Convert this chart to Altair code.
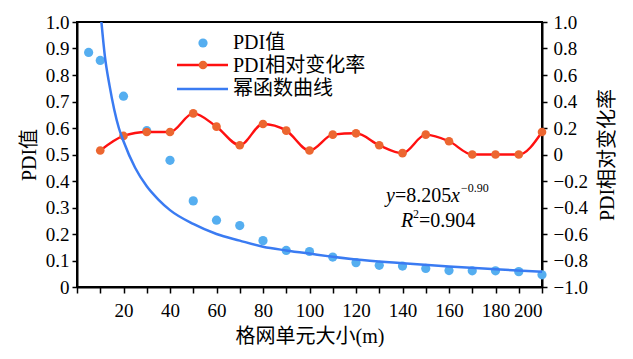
import altair as alt
import pandas as pd

# ---- data ----
pdi_x = [5, 10, 20, 30, 40, 50, 60, 70, 80, 90, 100, 110, 120, 130, 140, 150, 160, 170, 180, 190, 200]
pdi_val = [0.885, 0.855, 0.72, 0.59, 0.478, 0.325, 0.252, 0.232, 0.175, 0.138, 0.134, 0.113, 0.092, 0.082, 0.079, 0.07, 0.062, 0.061, 0.061, 0.058, 0.046]

rate_x = [10, 20, 30, 40, 50, 60, 70, 80, 90, 100, 110, 120, 130, 140, 150, 160, 170, 180, 190, 200]
rate_val = [0.03, 0.14, 0.17, 0.17, 0.31, 0.21, 0.07, 0.23, 0.18, 0.03, 0.15, 0.16, 0.07, 0.01, 0.15, 0.10, 0.0, 0.0, 0.0, 0.17]

curve_x = [10.5, 12, 14, 16, 18, 20, 25, 30, 35, 40, 50, 60, 70, 80, 90, 100, 120, 140, 160, 180, 200]
curve_val = [1.0, 0.87, 0.76, 0.67, 0.60, 0.55, 0.45, 0.38, 0.33, 0.29, 0.238, 0.20, 0.175, 0.152, 0.138, 0.126, 0.104, 0.09, 0.077, 0.067, 0.058]

x_ticks = list(range(0, 201, 10))
left_ticks = [round(i * 0.1, 1) for i in range(11)]
right_ticks = [round(-1 + i * 0.2, 1) for i in range(11)]

legend_labels = ["PDI值", "PDI相对变化率", "幂函数曲线"]

FONT = "Liberation Serif, Noto Sans CJK SC"
BLUE_PT = "#55AEF0"
RED = "#FF1010"
ORANGE = "#EC6630"
CURVE = "#3A7BF2"

pdi_df = pd.DataFrame({"x": pdi_x, "v": pdi_val})
rate_df = pd.DataFrame({"x": rate_x, "r": rate_val})
curve_df = pd.DataFrame({"x": curve_x, "v": curve_val})
one = pd.DataFrame({"a": [0]})

x_enc = alt.X("x:Q", scale=alt.Scale(domain=[0, 200], nice=False),
              axis=alt.Axis(values=x_ticks, title="格网单元大小(m)",
                            labelExpr="(datum.value % 20 == 0 && datum.value > 0) ? datum.label : ''",
                            tickSize=6, labelPadding=8, titlePadding=6))

left_axis = alt.Axis(values=left_ticks, title="PDI值", orient="left",
                     labelExpr="datum.value == 0 ? '0' : format(datum.value, '.1f')",
                     tickSize=5, labelPadding=3, titlePadding=6, titleAngle=270)
left_scale = alt.Scale(domain=[0, 1], nice=False)

right_axis = alt.Axis(values=right_ticks, title="PDI相对变化率", orient="right",
                      labelExpr="datum.value == 0 ? '0' : replace(format(datum.value, '.1f'), '-', '–')",
                      tickSize=5, labelPadding=6, titlePadding=10, titleAngle=270,
                      titleBaseline="top")
right_scale = alt.Scale(domain=[-1, 1], nice=False)

pts = alt.Chart(pdi_df).mark_circle(size=85, color=BLUE_PT, opacity=1).encode(
    x=x_enc, y=alt.Y("v:Q", scale=left_scale, axis=left_axis))

rline = alt.Chart(rate_df).mark_line(color=RED, strokeWidth=2.4, interpolate="monotone").encode(
    x=x_enc, y=alt.Y("r:Q", scale=right_scale, axis=right_axis))
rpts = alt.Chart(rate_df).mark_circle(size=75, color=ORANGE, opacity=1).encode(
    x=x_enc, y=alt.Y("r:Q", scale=right_scale, axis=right_axis))
right = alt.layer(rline, rpts)

curve = alt.Chart(curve_df).mark_line(color=CURVE, strokeWidth=2.5, interpolate="monotone").encode(
    x=x_enc, y=alt.Y("v:Q", scale=left_scale, axis=None))

# ---- manual legend ----
leg = [
    alt.Chart(one).mark_circle(size=85, color=BLUE_PT, opacity=1).encode(x=alt.value(126), y=alt.value(21)),
    alt.Chart(one).mark_rule(color=RED, strokeWidth=2.4).encode(x=alt.value(100), x2=alt.value(151), y=alt.value(43)),
    alt.Chart(one).mark_circle(size=75, color=ORANGE, opacity=1).encode(x=alt.value(126), y=alt.value(43)),
    alt.Chart(one).mark_rule(color=CURVE, strokeWidth=2.5).encode(x=alt.value(100), x2=alt.value(151), y=alt.value(67)),
]
for i, lab in enumerate(legend_labels):
    leg.append(alt.Chart(one).mark_text(text=lab, font=FONT, fontSize=20, align="left", baseline="middle", color="black")
               .encode(x=alt.value(156), y=alt.value(21 + 23 * i)))

# ---- equation annotation ----
def txt(t, x, y, size=20, style="normal"):
    return alt.Chart(one).mark_text(text=t, font=FONT, fontSize=size, fontStyle=style, align="left",
                                    baseline="middle", color="black").encode(x=alt.value(x), y=alt.value(y))

ann = [
    txt("y", 309, 174, style="italic"),
    txt("=8.205", 318, 174),
    txt("x", 374, 174, style="italic"),
    txt("−0.90", 384, 166, size=12),
    txt("R", 324, 199, style="italic"),
    txt("2", 336, 192, size=12),
    txt("=0.904", 342, 199),
]

chart = alt.layer(pts, right, curve, *leg, *ann).resolve_scale(y="independent").properties(
    width=465, height=265,
    autosize=alt.AutoSizeParams(type="none"),
    padding={"left": 69, "top": 14, "right": 80, "bottom": 60},
).configure_view(stroke="black", strokeWidth=2).configure_axis(
    domainColor="black", domainWidth=2, tickColor="black", tickWidth=1.5,
    labelFont=FONT, labelFontSize=19, labelColor="black",
    titleFont=FONT, titleFontSize=20, titleColor="black", titleFontWeight="normal",
    grid=False,
)

chart.save("out.html", embed_options={"renderer": "svg", "actions": False})
